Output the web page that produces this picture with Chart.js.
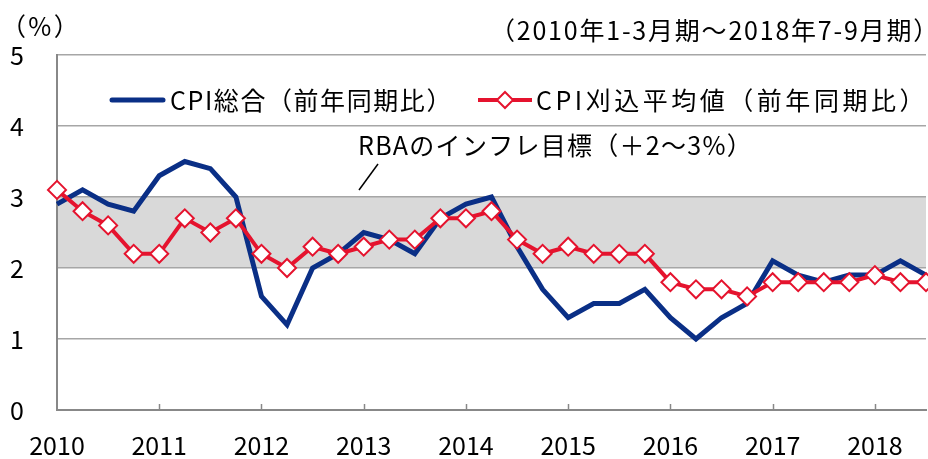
<!DOCTYPE html>
<html>
<head>
<meta charset="utf-8">
<script src="https://cdn.jsdelivr.net/npm/chart.js@4"></script>
<style>
  html, body { margin: 0; padding: 0; background: #fff; }
  #wrap { width: 928px; height: 459px; }
</style>
</head>
<body>
<div id="wrap"><canvas id="chart" width="928" height="459"></canvas></div>
<script>
// quarterly, 2010 Q1 .. 2018 Q3
var years = ["2010","2011","2012","2013","2014","2015","2016","2017","2018"]
var cpiTotal = [2.9,3.1,2.9,2.8, 3.3,3.5,3.4,3.0, 1.6,1.2,2.0,2.2, 2.5,2.4,2.2,2.7,
                2.9,3.0,2.3,1.7, 1.3,1.5,1.5,1.7, 1.3,1.0,1.3,1.5, 2.1,1.9,1.8,1.9,
                1.9,2.1,1.9]
var cpiTrimmed = [3.1,2.8,2.6,2.2, 2.2,2.7,2.5,2.7, 2.2,2.0,2.3,2.2, 2.3,2.4,2.4,2.7,
                  2.7,2.8,2.4,2.2, 2.3,2.2,2.2,2.2, 1.8,1.7,1.7,1.6, 1.8,1.8,1.8,1.8,
                  1.9,1.8,1.8]
var yTicks = [0,1,2,3,4,5]
var targetBand = [2,3]

var labelTotal = "CPI総合（前年同期比）"
var labelTrimmed = "CPI刈込平均値（前年同期比）"
var unitText = "（%）"
var periodText = "（2010年1-3月期～2018年7-9月期）"
var bandText = "RBAのインフレ目標（＋2～3%）"

var blue = "#0a2f86"
var red = "#e5132e"
var jpFont = "'Noto Sans CJK JP', 'Noto Sans', sans-serif"

var labels = []
for (var i = 0; i < cpiTotal.length; i++) {
  labels.push(years[Math.floor(i/4)] + "Q" + (i%4+1))
}

// draw text fitted to a given width (letter spacing, or squeeze if too wide)
function fitText(ctx, text, left, y, width){
  ctx.letterSpacing = "0px"
  var w = ctx.measureText(text).width
  var n = Array.from(text).length
  ctx.textAlign = "left"
  if (w > width) {
    ctx.save()
    ctx.translate(left, y)
    ctx.scale(width / w, 1)
    ctx.fillText(text, 0, 0)
    ctx.restore()
  } else {
    ctx.letterSpacing = ((width - w) / n) + "px"
    ctx.fillText(text, left, y)
    ctx.letterSpacing = "0px"
  }
}

// gray target band between 2 and 3
var bandPlugin = {
  id: "band",
  beforeDraw: function(chart){
    var ctx = chart.ctx
    var a = chart.chartArea
    var y = chart.scales.y
    var top = y.getPixelForValue(targetBand[1])
    var bot = y.getPixelForValue(targetBand[0])
    ctx.save()
    ctx.fillStyle = "#d9d9d9"
    ctx.fillRect(a.left, top, a.right - a.left, bot - top)
    ctx.restore()
  }
}

// texts, legend, year tick marks
var decoPlugin = {
  id: "deco",
  afterDraw: function(chart){
    var ctx = chart.ctx
    var x = chart.scales.x
    var y = chart.scales.y
    ctx.save()
    // small inward ticks on x axis
    ctx.strokeStyle = "#888"
    ctx.lineWidth = 1.5
    for (var i = 4; i < labels.length; i += 4) {
      var px = Math.round(x.getPixelForValue(i)) + 0.5
      ctx.beginPath()
      ctx.moveTo(px, y.bottom)
      ctx.lineTo(px, y.bottom - 6)
      ctx.stroke()
    }

    ctx.fillStyle = "#000"
    ctx.textBaseline = "middle"
    ctx.font = "25px " + jpFont
    // full-width brackets carry half an em of blank space, so widths include it
    fitText(ctx, unitText, 1, 26, 80)
    fitText(ctx, periodText, 490, 30, 450)

    // legend
    ctx.lineCap = "round"
    ctx.strokeStyle = blue
    ctx.lineWidth = 5
    ctx.beginPath(); ctx.moveTo(112, 100); ctx.lineTo(163, 100); ctx.stroke()
    fitText(ctx, labelTotal, 170, 100, 283)

    ctx.lineCap = "butt"
    ctx.strokeStyle = red
    ctx.lineWidth = 4
    ctx.beginPath(); ctx.moveTo(478, 100); ctx.lineTo(532, 100); ctx.stroke()
    ctx.fillStyle = "#fff"
    ctx.lineWidth = 2
    ctx.beginPath()
    ctx.moveTo(505, 92); ctx.lineTo(513, 100); ctx.lineTo(505, 108); ctx.lineTo(497, 100)
    ctx.closePath(); ctx.fill(); ctx.stroke()
    ctx.fillStyle = "#000"
    fitText(ctx, labelTrimmed, 536, 100, 392)

    // band annotation
    fitText(ctx, bandText, 358, 145, 395)
    ctx.strokeStyle = "#000"
    ctx.lineWidth = 1.5
    ctx.beginPath(); ctx.moveTo(378, 164); ctx.lineTo(359, 190); ctx.stroke()
    ctx.restore()
  }
}

var chart = new Chart(document.getElementById("chart").getContext("2d"), {
  type: "line",
  data: {
    labels: labels,
    datasets: [
      {
        label: labelTotal,
        data: cpiTotal,
        borderColor: blue,
        backgroundColor: blue,
        borderWidth: 5,
        pointRadius: 0,
        tension: 0,
        order: 1
      },
      {
        label: labelTrimmed,
        data: cpiTrimmed,
        borderColor: red,
        backgroundColor: "#fff",
        borderWidth: 4,
        pointStyle: "rectRot",
        pointRadius: 9,
        pointBorderWidth: 2,
        pointBorderColor: red,
        pointBackgroundColor: "#fff",
        tension: 0,
        order: 0
      }
    ]
  },
  options: {
    responsive: false,
    animation: false,
    devicePixelRatio: 1,
    layout: { autoPadding: false, padding: { top: 55, right: 2, left: 0, bottom: 0 } },
    plugins: {
      legend: { display: false },
      tooltip: { enabled: false }
    },
    scales: {
      x: {
        type: "category",
        offset: false,
        grid: { display: false },
        border: { display: true, color: "#888", width: 2 },
        ticks: {
          autoSkip: false,
          maxRotation: 0,
          padding: 12,
          color: "#000",
          font: { size: 25, family: jpFont },
          callback: function(v, i){ return i % 4 == 0 ? years[i/4] : null }
        },
        afterFit: function(s){ s.height = 49; s.paddingLeft = 0; s.paddingRight = 0 }
      },
      y: {
        min: 0,
        max: 5,
        afterBuildTicks: function(s){ s.ticks = yTicks.map(function(v){ return { value: v } }) },
        grid: { color: "#a6a6a6", lineWidth: 1.5, drawTicks: false },
        border: { display: true, color: "#888", width: 2 },
        ticks: {
          padding: 33,
          color: "#000",
          font: { size: 25, family: jpFont }
        },
        afterFit: function(s){ s.width = 57; s.paddingTop = 0; s.paddingBottom = 0 }
      }
    }
  },
  plugins: [bandPlugin, decoPlugin]
})
</script>
</body>
</html>
